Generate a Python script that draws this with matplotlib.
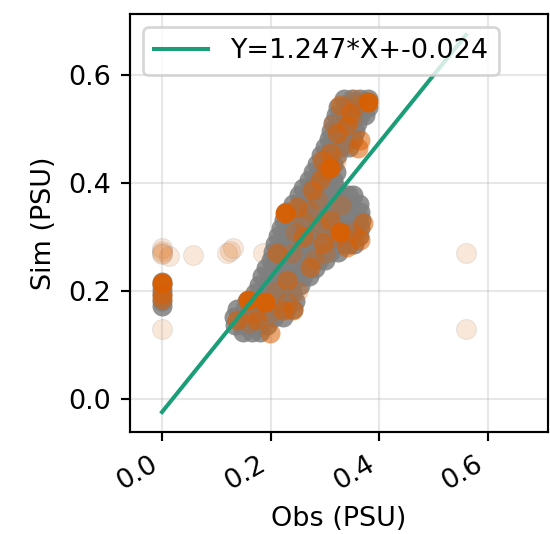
import matplotlib
matplotlib.use("Agg")
import matplotlib.pyplot as plt

DPI = 194

# Fitted regression line
slope = 1.247
intercept = -0.024
fit_obs = [0.0, 0.56]

# Dense cloud of matched salinity pairs, one row per simulated level
band_sim = [0.556, 0.541, 0.526, 0.511, 0.496, 0.481, 0.466, 0.451, 0.436,
            0.421, 0.406, 0.391, 0.377, 0.362, 0.347, 0.332, 0.317, 0.302,
            0.287, 0.272, 0.257, 0.242, 0.227, 0.212, 0.197, 0.182, 0.167,
            0.152, 0.137, 0.124]
band_obs = [
    [0.335, 0.35, 0.365, 0.38],
    [0.325, 0.34, 0.355, 0.37, 0.38],
    [0.32, 0.335, 0.35, 0.365, 0.374],
    [0.315, 0.33, 0.345, 0.36],
    [0.311, 0.325, 0.34, 0.355],
    [0.307, 0.322, 0.337, 0.352],
    [0.30, 0.315, 0.33, 0.345],
    [0.293, 0.308, 0.323],
    [0.286, 0.30, 0.315],
    [0.278, 0.292, 0.306, 0.32],
    [0.27, 0.285, 0.30, 0.315],
    [0.26, 0.275, 0.29, 0.305, 0.32],
    [0.252, 0.267, 0.282, 0.297, 0.312, 0.327, 0.342, 0.352],
    [0.241, 0.256, 0.271, 0.286, 0.301, 0.316, 0.331, 0.346, 0.362],
    [0.229, 0.244, 0.259, 0.274, 0.289, 0.304, 0.319, 0.334, 0.349, 0.364],
    [0.225, 0.24, 0.255, 0.27, 0.285, 0.30, 0.315, 0.33, 0.345, 0.36, 0.367],
    [0.22, 0.235, 0.25, 0.265, 0.28, 0.295, 0.31, 0.325, 0.34, 0.355, 0.365],
    [0.214, 0.229, 0.244, 0.259, 0.274, 0.289, 0.304, 0.319, 0.334, 0.349, 0.362],
    [0.209, 0.224, 0.239, 0.254, 0.269, 0.284, 0.299, 0.314, 0.329, 0.344, 0.354],
    [0.204, 0.219, 0.234, 0.249, 0.264, 0.279, 0.294, 0.309, 0.325],
    [0.20, 0.215, 0.23, 0.245, 0.26, 0.275, 0.29, 0.30],
    [0.192, 0.207, 0.222, 0.237, 0.252, 0.267, 0.282],
    [0.184, 0.199, 0.214, 0.229, 0.244, 0.259, 0.27],
    [0.178, 0.193, 0.208, 0.223, 0.238, 0.254],
    [0.172, 0.187, 0.202, 0.217, 0.232, 0.24],
    [0.156, 0.171, 0.186, 0.201, 0.216, 0.231, 0.245],
    [0.138, 0.153, 0.168, 0.183, 0.198, 0.213, 0.228, 0.242],
    [0.132, 0.147, 0.162, 0.177, 0.192, 0.207, 0.222],
    [0.134, 0.149, 0.164, 0.179, 0.194],
    [0.15, 0.165, 0.18],
]

# Stations with zero observed salinity
zero_obs = [0.0, 0.0, 0.0, 0.0, 0.0, 0.0]
zero_sim = [0.172, 0.182, 0.192, 0.202, 0.212, 0.216]

# Faint samples scattered through the cloud
mid_obs = [0.35, 0.36, 0.335, 0.32, 0.30, 0.285, 0.26, 0.245, 0.28, 0.30,
           0.32, 0.35, 0.36, 0.25, 0.23, 0.20, 0.17, 0.16, 0.21, 0.24,
           0.33, 0.27, 0.29, 0.355, 0.315]
mid_sim = [0.52, 0.545, 0.47, 0.44, 0.42, 0.37, 0.33, 0.31, 0.26, 0.27,
           0.30, 0.31, 0.30, 0.20, 0.18, 0.16, 0.16, 0.14, 0.20, 0.27,
           0.36, 0.35, 0.32, 0.555, 0.51]

# Highlighted samples inside the cloud
hi_obs = [0.365, 0.361, 0.341, 0.347, 0.328, 0.322, 0.31, 0.295, 0.291,
          0.276, 0.249, 0.297, 0.365, 0.341, 0.273, 0.23, 0.223, 0.241,
          0.138, 0.199, 0.175, 0.212, 0.26, 0.31, 0.37, 0.0, 0.0]
hi_sim = [0.48, 0.465, 0.507, 0.53, 0.544, 0.493, 0.455, 0.443, 0.405,
          0.387, 0.356, 0.289, 0.294, 0.281, 0.244, 0.22, 0.165, 0.165,
          0.146, 0.122, 0.146, 0.27, 0.3, 0.331, 0.326, 0.195, 0.185]

# Strongest samples
peak_obs = [0.38, 0.31, 0.227, 0.328, 0.159, 0.19, 0.0]
peak_sim = [0.55, 0.428, 0.344, 0.309, 0.183, 0.18, 0.215]

# Isolated outliers
out_obs = [0.0, 0.0, 0.0, 0.0, 0.012, 0.057, 0.12, 0.125, 0.13, 0.186,
           0.0, 0.56, 0.56]
out_sim = [0.27, 0.28, 0.275, 0.268, 0.265, 0.267, 0.27, 0.275, 0.28, 0.27,
           0.13, 0.27, 0.13]

xticks = [0.0, 0.2, 0.4, 0.6]
yticks = [0.0, 0.2, 0.4, 0.6]

orange = "#d95f02"
green = "#1b9e77"
gray = "#7f7f7f"
msize = 55

fig = plt.figure(figsize=(550 / DPI, 534 / DPI), dpi=DPI)
ax = fig.add_axes([130 / 550, 1 - 432 / 534, 418 / 550, 418 / 534])

ax.scatter(out_obs, out_sim, s=msize, color=orange, alpha=0.15,
           edgecolors=gray, linewidths=0.4, zorder=2)

cloud_obs = [x for row in band_obs for x in row] + zero_obs
cloud_sim = [y for y, row in zip(band_sim, band_obs) for _ in row] + zero_sim
ax.scatter(cloud_obs, cloud_sim, s=msize, color=gray, alpha=0.85,
           linewidths=0, zorder=2)
ax.scatter(mid_obs, mid_sim, s=msize, color=orange, alpha=0.3,
           linewidths=0, zorder=3)
ax.scatter(hi_obs, hi_sim, s=msize, color=orange, alpha=0.55,
           linewidths=0, zorder=3)
ax.scatter(peak_obs, peak_sim, s=msize, color=orange, alpha=0.95,
           linewidths=0, zorder=3)

fit_sim = [slope * x + intercept for x in fit_obs]
ax.plot(fit_obs, fit_sim, color=green, lw=1.5, zorder=4,
        label=f"Y={slope:.3f}*X+{intercept:.3f}")

ax.set_xlim(-0.059, 0.711)
ax.set_ylim(-0.061, 0.713)
ax.set_xticks(xticks)
ax.set_yticks(yticks)
ax.set_xticklabels([f"{t:.1f}" for t in xticks], rotation=30, ha="right")
ax.grid(alpha=0.3)
ax.set_axisbelow(True)
ax.set_xlabel("Obs (PSU)")
ax.set_ylabel("Sim (PSU)")
ax.legend(loc="upper left")

fig.savefig("out.png", dpi=DPI)
